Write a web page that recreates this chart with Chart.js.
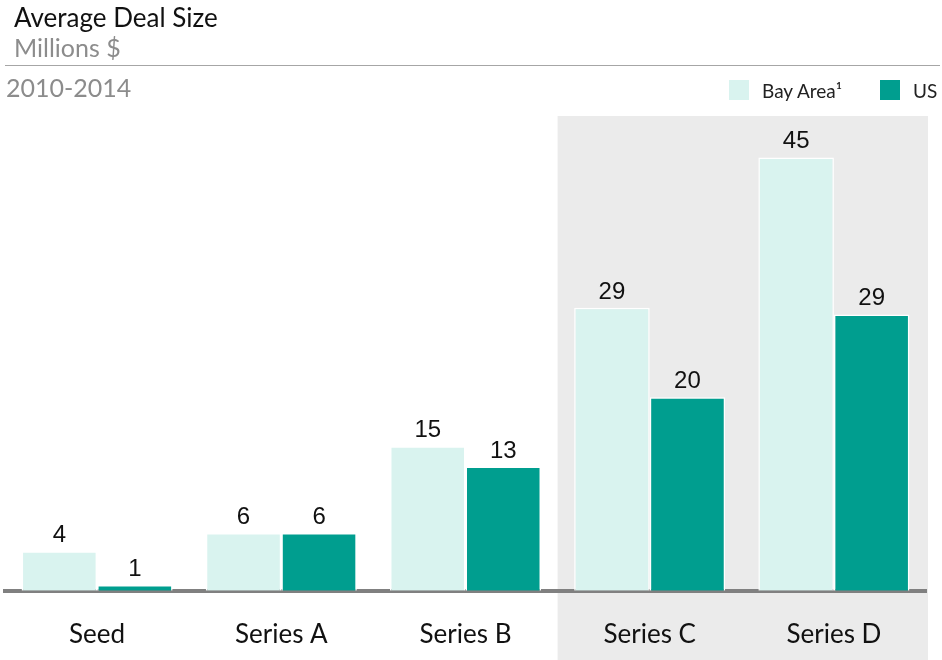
<!DOCTYPE html>
<html>
<head>
<meta charset="utf-8">
<script src="https://cdn.jsdelivr.net/npm/chart.js@4.4.1/dist/chart.umd.min.js"></script>
<style>
  html, body { margin:0; padding:0; background:#fff; }
  #wrap { position:relative; width:942px; height:660px; overflow:hidden; }
  #chart { position:absolute; left:0; top:0; }
  .txt { position:absolute; font-family:Lato, sans-serif; line-height:1; white-space:nowrap; }
  #title { left:14px; top:4px; font-size:26px; color:#111; }
  #unit { left:14px; top:35px; font-size:25px; color:#8c8c8c; }
  #rule { position:absolute; left:5px; top:65px; width:935px; height:0; border-top:1.5px solid #a6a6a6; }
  #period { left:6px; top:75px; font-size:25px; color:#8c8c8c; }
  .leg { position:absolute; top:80px; height:20px; display:flex; align-items:center; font-family:Lato, sans-serif; font-size:19px; color:#222; white-space:nowrap; }
  .leg i { display:inline-block; width:20px; height:20px; margin-right:13px; }
</style>
</head>
<body>
<div id="wrap">
  <canvas id="chart" width="942" height="660"></canvas>
  <div id="title" class="txt">Average Deal Size</div>
  <div id="unit" class="txt">Millions $</div>
  <div id="rule"></div>
  <div id="period" class="txt">2010-2014</div>
  <div id="leg0" class="leg" style="left:729px"></div>
  <div id="leg1" class="leg" style="left:880px"></div>
</div>
<script>
// Données (millions $, 2010-2014)
const categories = ['Seed', 'Series A', 'Series B', 'Series C', 'Series D'];
const bayArea    = [4.1, 6.0, 15.0, 29.4, 45.0];
const us         = [0.6, 6.0, 12.9, 20.1, 28.7];
const seriesNames = ['Bay Area¹', 'US'];

const colBay = '#d9f3ef';
const colUS  = '#009e8f';

// Légende en HTML
[colBay, colUS].forEach((c, i) => {
  const el = document.getElementById('leg' + i);
  const sw = document.createElement('i');
  sw.style.background = c;
  el.appendChild(sw);
  el.appendChild(document.createTextNode(seriesNames[i]));
});

// Zone grisée derrière Series C / D (avant les axes pour que la ligne de base passe dessus)
const shadePlugin = {
  id: 'shade',
  beforeDraw(chart) {
    const { ctx, chartArea, scales } = chart;
    const left = (scales.x.getPixelForValue(2) + scales.x.getPixelForValue(3)) / 2;
    ctx.save();
    ctx.fillStyle = '#ebebeb';
    ctx.fillRect(left, chartArea.top, chartArea.right + 2 - left, chart.height - chartArea.top);
    ctx.restore();
  }
};

// Valeurs au-dessus des barres
const valuePlugin = {
  id: 'values',
  afterDatasetsDraw(chart) {
    const { ctx } = chart;
    ctx.save();
    ctx.font = '24px "Liberation Sans", Arial, sans-serif';
    ctx.fillStyle = '#111';
    ctx.textAlign = 'center';
    ctx.textBaseline = 'alphabetic';
    chart.data.datasets.forEach((ds, i) => {
      chart.getDatasetMeta(i).data.forEach((bar, j) => {
        ctx.fillText(Math.round(ds.data[j]), bar.x, bar.y - 9);
      });
    });
    ctx.restore();
  }
};

new Chart(document.getElementById('chart'), {
  type: 'bar',
  data: {
    labels: categories,
    datasets: [
      { label: seriesNames[0], data: bayArea, backgroundColor: colBay, borderColor: '#fff', borderWidth: 1.5 },
      { label: seriesNames[1], data: us, backgroundColor: colUS, borderColor: '#fff', borderWidth: 1.5 }
    ]
  },
  options: {
    responsive: false,
    animation: false,
    layout: { padding: { top: 116, left: 5, right: 16, bottom: -18 } },
    datasets: { bar: { categoryPercentage: 0.82, barPercentage: 1.0 } },
    scales: {
      x: {
        grid: { display: false, drawTicks: false },
        border: { display: true, color: '#808080', width: 4 },
        ticks: { color: '#111', font: { family: 'Lato', size: 26 }, padding: 28 }
      },
      y: {
        display: false,
        min: 0,
        max: 49.3
      }
    },
    plugins: {
      legend: { display: false },
      tooltip: { enabled: false }
    }
  },
  plugins: [shadePlugin, valuePlugin]
});
</script>
</body>
</html>
